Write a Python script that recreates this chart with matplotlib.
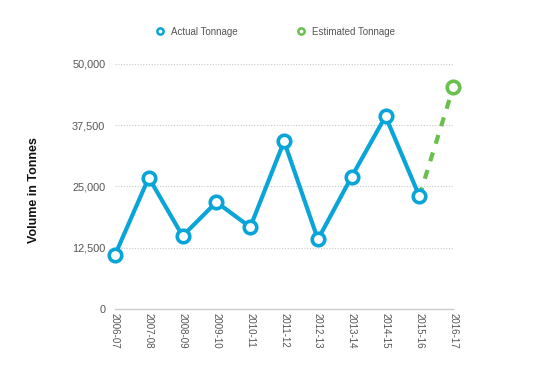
import matplotlib
matplotlib.use("Agg")
import matplotlib.pyplot as plt
from matplotlib.lines import Line2D
from matplotlib.ticker import FuncFormatter

plt.rcParams['font.family'] = ['Liberation Sans', 'DejaVu Sans']

years = ["2006-07", "2007-08", "2008-09", "2009-10", "2010-11", "2011-12",
         "2012-13", "2013-14", "2014-15", "2015-16", "2016-17"]
actual = [11000, 26800, 14900, 21800, 16700, 34200, 14200, 27000, 39300, 23000]
estimated = [23000, 45200]   # 2015-16 -> 2016-17
yticks = [0, 12500, 25000, 37500, 50000]

blue = "#0aa5d8"
green = "#6bbf4e"

fig = plt.figure(figsize=(5.5, 3.71), dpi=100)
ax = fig.add_axes([0.209, 0.167, 0.615, 0.661])

x = list(range(len(years)))
ax.plot(x[9:11], estimated, color=green, lw=3, ls=(0, (2.2, 2.2)), zorder=2, clip_on=False)
ax.plot(x[10], estimated[1], 'o', ms=9, mfc='white', mec=green, mew=2.6, zorder=3, clip_on=False)
ax.plot(x[:10], actual, color=blue, lw=3, marker='o', ms=9, mfc='white', mec=blue,
        mew=2.6, zorder=4, clip_on=False)

ax.set_xlim(0, 10)
ax.set_ylim(0, 50000)
ax.set_yticks(yticks)
ax.yaxis.set_major_formatter(FuncFormatter(lambda v, p: f"{int(v):,}"))
ax.set_xticks(x)
ax.set_xticklabels(years, rotation=270)
ax.tick_params(axis='both', length=0, labelsize=7, colors='#555555')
ax.tick_params(axis='y', labelsize=7.8, pad=7)
ax.tick_params(axis='x', pad=3)

for v in yticks[1:]:
    ax.axhline(v, color='#c8c8c8', lw=0.8, ls=(0, (1, 1.5)), zorder=1)
for s in ['top', 'right', 'left']:
    ax.spines[s].set_visible(False)
ax.spines['bottom'].set_color('#cccccc')
ax.spines['bottom'].set_linewidth(1)

fig.text(0.062, 0.487, "Volume in Tonnes", rotation=90, ha='center', va='center',
         fontsize=9, fontweight='bold', color='#111111')

handles = [Line2D([], [], ls='none', marker='o', ms=4.5, mfc='white', mec=blue, mew=1.8),
           Line2D([], [], ls='none', marker='o', ms=4.5, mfc='white', mec=green, mew=1.8)]
fig.legend(handles, ["Actual Tonnage", "Estimated Tonnage"], loc='center',
           bbox_to_anchor=(0.5, 0.915), ncol=2, frameon=False, fontsize=7,
           labelcolor='#555555', columnspacing=6, handletextpad=0.6, handlelength=1)

fig.savefig("out.png", dpi=100, facecolor='white')
